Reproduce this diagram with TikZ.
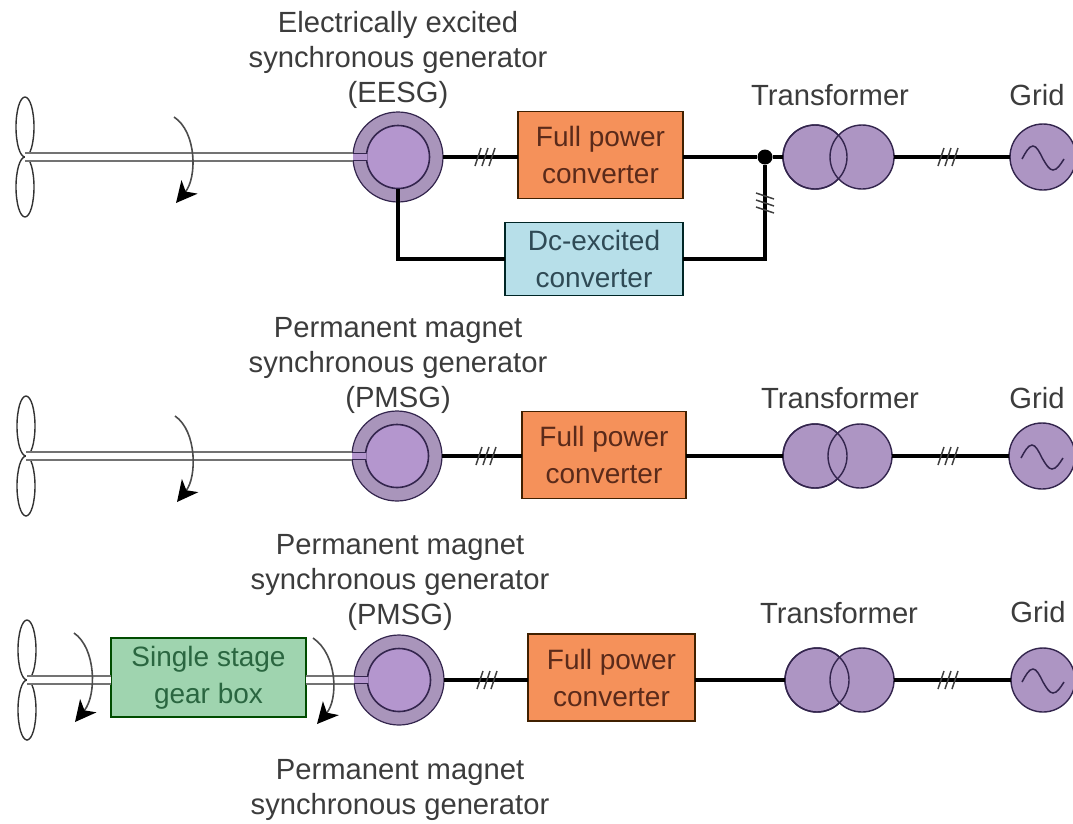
\documentclass[tikz,border=0pt]{standalone}
\usepackage{fontspec}
\setmainfont{Liberation Sans}
\usepackage{xcolor}
\usepackage{tikz}
\usetikzlibrary{shapes.geometric,arrows.meta}
\definecolor{ringfill}{HTML}{A995BB}
\definecolor{corefill}{HTML}{B496CE}
\definecolor{edgedark}{HTML}{33254D}
\definecolor{convfill}{HTML}{F5915A}
\definecolor{convtext}{HTML}{5A2A1A}
\definecolor{dcfill}{HTML}{B7DFE9}
\definecolor{dctext}{HTML}{2F4A55}
\definecolor{gearfill}{HTML}{9FD4AF}
\definecolor{geartext}{HTML}{2A6640}
\definecolor{labelgray}{HTML}{3C3C3C}
\tikzset{
    lbl/.style={font=\fontsize{29.2}{35}\selectfont, text=labelgray, align=center, inner sep=0pt},
    conv/.style={draw=black!75!orange, line width=1.8pt, fill=convfill, minimum width=#1, minimum height=87pt, inner sep=0pt, outer sep=0pt, align=center, font=\fontsize{28}{37}\selectfont, text=convtext},
    dcbox/.style={conv=178pt, fill=dcfill, minimum height=73pt, draw=black!70!teal, text=dctext},
    gearbox/.style={conv=195pt, fill=gearfill, minimum height=79pt, draw=black!70!green, text=geartext},
    blade/.style={ellipse, draw=black!80, line width=1.4pt, minimum width=18pt, minimum height=60pt, inner sep=0pt, outer sep=0pt},
    genring/.style={circle, draw=edgedark, line width=1.2pt, fill=ringfill, minimum size=90pt, inner sep=0pt, outer sep=0pt},
    gencore/.style={circle, draw=edgedark, line width=1.6pt, fill=corefill, minimum size=63pt, inner sep=0pt, outer sep=0pt},
    trafo/.style={circle, draw=edgedark, line width=1.4pt, fill=ringfill!60!corefill, minimum size=64pt, inner sep=0pt, outer sep=0pt},
    trafoline/.style={trafo, fill=none},
    shaft/.style={double=white, double distance=5.5pt, line width=2pt, draw=black!55},
    stub/.style={double=corefill, double distance=5.5pt, line width=1.6pt, draw=edgedark},
    bus/.style={line width=3.2pt, black},
    rot/.style={line width=1.6pt, draw=black!70, -{Stealth[length=21pt,width=21pt,inset=6pt,black]}},
    threetick/.pic={
        \foreach \d in {-7,0,7}
            \draw[line width=1.5pt, black!75] (\d-3,9) -- (\d+3,-9);
    },
    acwave/.pic={
        \draw[line width=1.5pt, edgedark] (-21,2) sin (-10,-11) cos (0,2) sin (10,13) cos (21,2);
    }
}
\begin{document}
\begin{tikzpicture}[x=1pt,y=-1pt]
    \useasboundingbox (0,0) rectangle (1073,823);

    % First row: EESG
    \node[lbl] (eesgtxt) at (398,60) {Electrically excited\\synchronous generator\\(EESG)};
    \node[lbl] (trtxt1) at (830,95) {Transformer};
    \node[lbl] (gridtxt1) at (1037,95) {Grid};

    \node[blade] (blade1a) at (25,127) {};
    \node[blade] (blade1b) at (25,187) {};
    \node[genring] (gen1) at (398,157) {};
    \draw[shaft] (blade1a.south) -- (gen1.west);
    \node[gencore] (core1) at (398,157) {};
    \draw[stub] (gen1.west) -- (core1.west);
    \coordinate (rot1a) at (174,117);
    \coordinate (rot1b) at (176,203);
    \draw[rot] (rot1a) .. controls (197,132) and (197,178) .. (rot1b);

    \node[conv=165pt] (conv1) at (600.5,155) {Full power\\converter};
    \node[dcbox] (dc1) at (594,259) {Dc-excited\\converter};
    \node[trafo] (tr1a) at (815,157) {};
    \node[trafo] (tr1b) at (862,157) {};
    \node[trafoline] (tr1c) at (815,157) {};
    \node[trafo, minimum size=66pt] (grid1) at (1043,157) {};
    \pic at (grid1) {acwave};
    \node[circle, fill=black, minimum size=15pt, inner sep=0pt] (dot1) at (765,157) {};

    \draw[bus] (gen1.east) -- (gen1.east -| conv1.west);
    \draw[bus] (conv1.east |- dot1) -- (dot1);
    \draw[bus] (dot1) -- (tr1a);
    \draw[bus] (tr1b.east) -- (grid1.west);
    \draw[bus] (core1.south) |- (dc1.west);
    \draw[bus] (dc1.east) -| (dot1);
    \pic at (485,157) {threetick};
    \pic at (948,157) {threetick};
    \pic[rotate=90] at (765,203) {threetick};

    % Second row: PMSG
    \node[lbl] (pmsgtxt1) at (398,365) {Permanent magnet\\synchronous generator\\(PMSG)};
    \node[lbl] (trtxt2) at (840,398) {Transformer};
    \node[lbl] (gridtxt2) at (1037,398) {Grid};

    \node[blade] (blade2a) at (26,426) {};
    \node[blade] (blade2b) at (26,486) {};
    \node[genring] (gen2) at (397,456) {};
    \draw[shaft] (blade2a.south) -- (gen2.west);
    \node[gencore] (core2) at (397,456) {};
    \draw[stub] (gen2.west) -- (core2.west);
    \coordinate (rot2a) at (175,416);
    \coordinate (rot2b) at (177,502);
    \draw[rot] (rot2a) .. controls (197,431) and (197,477) .. (rot2b);

    \node[conv=164pt] (conv2) at (604,455) {Full power\\converter};
    \node[trafo] (tr2a) at (815,456) {};
    \node[trafo] (tr2b) at (860,456) {};
    \node[trafoline] (tr2c) at (815,456) {};
    \node[trafo, minimum size=66pt] (grid2) at (1042,456) {};
    \pic at (grid2) {acwave};

    \draw[bus] (gen2.east) -- (gen2.east -| conv2.west);
    \draw[bus] (conv2.east |- tr2a) -- (tr2a);
    \draw[bus] (tr2b.east) -- (grid2.west);
    \pic at (486,456) {threetick};
    \pic at (948,456) {threetick};

    % Third row: PMSG and gear box
    \node[lbl] (pmsgtxt2) at (400,582) {Permanent magnet\\synchronous generator\\(PMSG)};
    \node[lbl] (trtxt3) at (839,613) {Transformer};
    \node[lbl] (gridtxt3) at (1038,612) {Grid};

    \node[blade] (blade3a) at (27,650) {};
    \node[blade] (blade3b) at (27,710) {};
    \node[gearbox] (gear3) at (208.5,677.5) {Single stage\\gear box};
    \node[genring] (gen3) at (399,680) {};
    \draw[shaft] (blade3a.south) -- (blade3a.south -| gear3.west);
    \draw[shaft] (blade3a.south -| gear3.east) -- (gen3.west);
    \node[gencore] (core3) at (399,680) {};
    \draw[stub] (gen3.west) -- (core3.west);
    \coordinate (rot3a) at (74,633);
    \coordinate (rot3b) at (75,722);
    \coordinate (rot3c) at (313,638);
    \coordinate (rot3d) at (317,724);
    \draw[rot] (rot3a) .. controls (96,648) and (97,695) .. (rot3b);
    \draw[rot] (rot3c) .. controls (338,655) and (338,700) .. (rot3d);

    \node[conv=167pt] (conv3) at (611.5,677.5) {Full power\\converter};
    \node[trafo] (tr3a) at (817,680) {};
    \node[trafo] (tr3b) at (862,680) {};
    \node[trafoline] (tr3c) at (817,680) {};
    \node[trafo, minimum size=64pt] (grid3) at (1043,680) {};
    \pic at (grid3) {acwave};

    \draw[bus] (gen3.east) -- (gen3.east -| conv3.west);
    \draw[bus] (conv3.east |- tr3a) -- (tr3a);
    \draw[bus] (tr3b.east) -- (grid3.west);
    \pic at (487,680) {threetick};
    \pic at (948,680) {threetick};

    % Fourth row, cut off at the bottom
    \node[lbl] (pmsgtxt3) at (400,789.5) {Permanent magnet\\synchronous generator};
\end{tikzpicture}
\end{document}
